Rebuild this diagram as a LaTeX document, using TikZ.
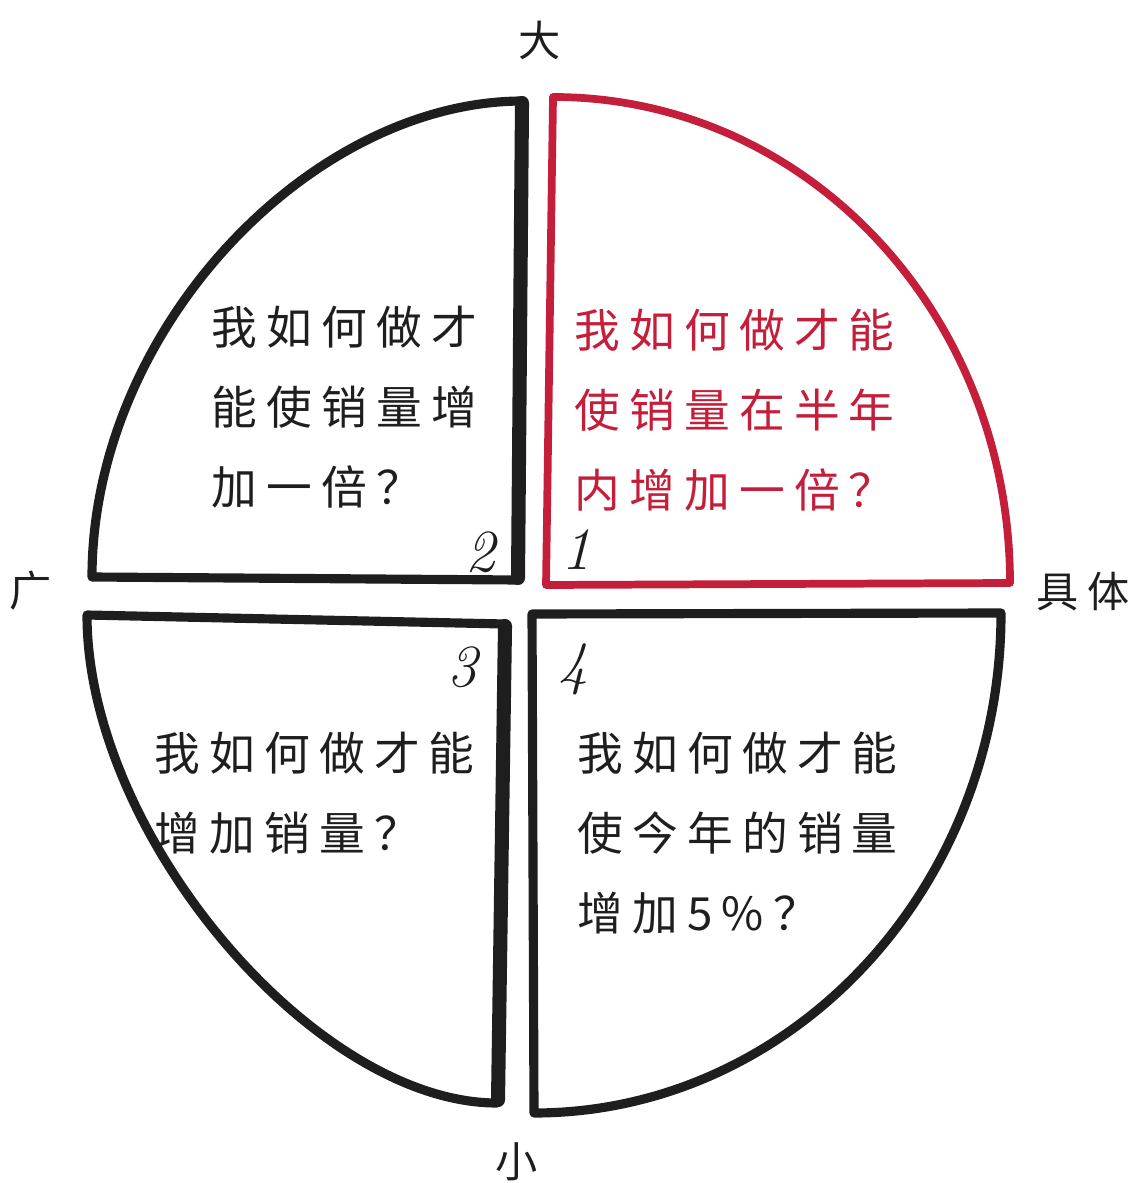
\documentclass[tikz,border=0pt]{standalone}
\usepackage{fontspec}
\usetikzlibrary{positioning}
\newfontfamily\cjk[LetterSpace=20]{Noto Sans CJK SC}
\definecolor{penred}{HTML}{C41E3A}
\definecolor{ink}{HTML}{1E1E1E}

\begin{document}
\begin{tikzpicture}[
  x=0.01cm, y=-0.01cm,
  quad/.style={draw=ink, line width=2.6pt, line join=round},
  redquad/.style={draw=penred, line width=2.2pt, line join=round},
  edge/.style={draw=ink, line width=4pt, line cap=round},
  txt/.style={anchor=west, inner sep=0pt, align=left, text=ink,
    font=\cjk\fontsize{13}{22.8}\selectfont},
  num/.style={inner sep=0pt, text=ink, font=\fontsize{17}{17}\selectfont\itshape},
  dir/.style={inner sep=0pt, text=ink, font=\cjk\fontsize{12}{12}\selectfont}
]
\useasboundingbox (0,0) rectangle (1134,1183);

\draw[redquad] (546,585) -- (553,97) .. controls (808,97) and (1010,315) .. (1010,583) -- cycle;
\draw[quad] (518,580) -- (523,101) .. controls (310,101) and (92,330) .. (92,577) -- cycle;
\draw[quad] (505,624) -- (87,615) .. controls (87,835) and (315,1103) .. (497,1103) -- cycle;
\draw[quad] (532,614) -- (1001,613) .. controls (1001,890) and (790,1113) .. (534,1113) -- cycle;
\draw[edge] (518,578) -- (522,103);
\draw[edge] (505,626) -- (498,1100);

\node[txt, text=penred] (q1txt) at (574,410) {我如何做才能\\使销量在半年\\内增加一倍？};
\node[txt] (q2txt) at (211,407) {我如何做才\\能使销量增\\加一倍？};
\node[txt] (q3txt) at (154,793) {我如何做才能\\增加销量？};
\node[txt] (q4txt) at (577,833) {我如何做才能\\使今年的销量\\增加5\%？};

\node[num] (n1) at (576,550) {1};
\node[num] (n2) at (480,552) {2};
\node[num] (n3) at (462,667) {3};
\node[num] (n4) at (573,669) {4};

\node[dir] (big) at (540,40) {大};
\node[dir] (wide) at (31,591) {广};
\node[dir] (concrete) at (1083,592) {具体};
\node[dir] (small) at (517,1162) {小};
\end{tikzpicture}
\end{document}
